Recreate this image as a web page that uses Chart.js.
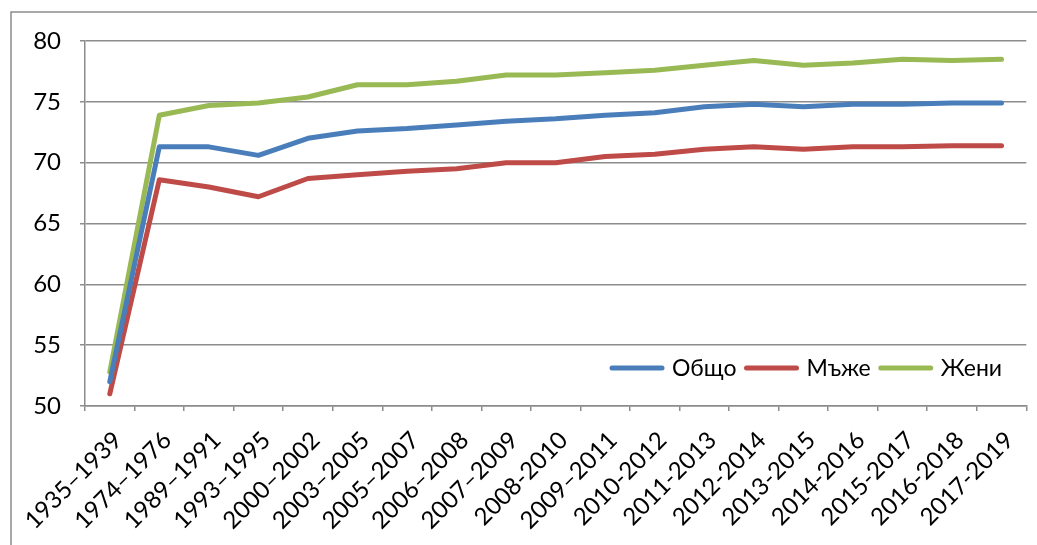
<!DOCTYPE html>
<html>
<head>
<meta charset="utf-8">
<script src="https://cdn.jsdelivr.net/npm/chart.js@4"></script>
<style>
  html, body { margin: 0; padding: 0; background: #fff; }
  #wrap { width: 1037px; height: 545px; }
</style>
</head>
<body>
<div id="wrap"><canvas id="grafico" width="1037" height="545"></canvas></div>
<script>
const periodos = ["1935–1939", "1974–1976", "1989–1991", "1993–1995", "2000–2002", "2003–2005",
  "2005–2007", "2006–2008", "2007–2009", "2008-2010", "2009–2011", "2010-2012", "2011-2013",
  "2012-2014", "2013-2015", "2014-2016", "2015-2017", "2016-2018", "2017-2019"];
const obshto = [52.0, 71.3, 71.3, 70.6, 72.0, 72.6, 72.8, 73.1, 73.4, 73.6, 73.9, 74.1, 74.6, 74.8, 74.6, 74.8, 74.8, 74.9, 74.9];
const mazhe  = [51.0, 68.6, 68.0, 67.2, 68.7, 69.0, 69.3, 69.5, 70.0, 70.0, 70.5, 70.7, 71.1, 71.3, 71.1, 71.3, 71.3, 71.4, 71.4];
const zheni  = [52.8, 73.9, 74.7, 74.9, 75.4, 76.4, 76.4, 76.7, 77.2, 77.2, 77.4, 77.6, 78.0, 78.4, 78.0, 78.2, 78.5, 78.4, 78.5];
const etiketi = ["Общо", "Мъже", "Жени"];
const yTicks = [50, 55, 60, 65, 70, 75, 80];

const FONT = "Lato, 'Open Sans', sans-serif";

// outer frame of the chart object (only top and left edges are visible)
const marco = {
  id: "marco",
  beforeDraw(chart) {
    const ctx = chart.ctx;
    ctx.save();
    ctx.strokeStyle = "#8c8c8c";
    ctx.lineWidth = 1.5;
    ctx.strokeRect(11, 12, 1200, 700);
    ctx.restore();
  }
};

// legend drawn inside the plot, bottom right
const leyendaInterna = {
  id: "leyendaInterna",
  afterDraw(chart) {
    const ctx = chart.ctx;
    const y = 368;
    let x = 612;
    ctx.save();
    ctx.font = "23px " + FONT;
    ctx.textBaseline = "middle";
    chart.data.datasets.forEach((ds) => {
      ctx.strokeStyle = ds.borderColor;
      ctx.lineWidth = 5;
      ctx.lineCap = "round";
      ctx.beginPath();
      ctx.moveTo(x, y);
      ctx.lineTo(x + 50, y);
      ctx.stroke();
      ctx.fillStyle = "#000";
      ctx.fillText(ds.label, x + 60, y + 1);
      x += 60 + ctx.measureText(ds.label).width + 10;
    });
    ctx.restore();
  }
};

const serie = (label, data, color) => ({
  label, data,
  borderColor: color,
  backgroundColor: color,
  borderWidth: 5,
  borderCapStyle: "round",
  borderJoinStyle: "round",
  pointRadius: 0,
  tension: 0
});

new Chart(document.getElementById("grafico"), {
  type: "line",
  data: {
    labels: periodos,
    datasets: [
      serie(etiketi[0], obshto, "#4A7EBB"),
      serie(etiketi[1], mazhe, "#BE4B48"),
      serie(etiketi[2], zheni, "#98B954")
    ]
  },
  options: {
    responsive: false,
    animation: false,
    layout: { padding: { top: 41, right: 4, left: 0, bottom: 0 } },
    plugins: { legend: { display: false }, tooltip: { enabled: false } },
    scales: {
      x: {
        offset: true,
        grid: { offset: true, drawOnChartArea: false, drawTicks: true, tickLength: 5, color: "#8c8c8c", lineWidth: 1.5 },
        border: { color: "#8c8c8c", width: 1.5 },
        ticks: { color: "#000", font: { family: FONT, size: 24 }, minRotation: 45, maxRotation: 45, autoSkip: false, padding: 15, labelOffset: 8 },
        afterFit(scale) { scale.height = 139; }
      },
      y: {
        min: 50, max: 80,
        afterBuildTicks(scale) { scale.ticks = yTicks.map(v => ({ value: v })); },
        grid: { color: "#8c8c8c", lineWidth: 1.5, drawTicks: true, tickLength: 5 },
        border: { color: "#8c8c8c", width: 1.5 },
        ticks: { color: "#000", font: { family: FONT, size: 24 }, padding: 19 },
        afterFit(scale) { scale.width = 85; }
      }
    }
  },
  plugins: [marco, leyendaInterna]
});
</script>
</body>
</html>
